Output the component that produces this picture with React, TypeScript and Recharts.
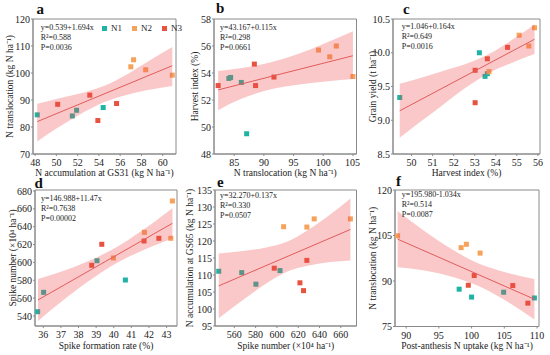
import React from "react"
import {
  ComposedChart, XAxis, YAxis, Scatter, Line, Area,
  ReferenceArea, Legend,
} from "recharts"

const groups = ["N1", "N2", "N3"]
const groupColors = ["#1fb3a5", "#f6a25b", "#e8533f"]

// points are ordered N1 x4, N2 x4, N3 x4
const aX = [48.2, 51.5, 51.9, 54.4, 57.0, 57.26, 58.4, 60.9, 50.12, 53.14, 53.9, 55.66]
const aY = [84.5, 84.1, 86.2, 87.2, 102.3, 104.9, 101.2, 99.2, 88.4, 91.8, 82.4, 88.7]
const aFitX = [48.2, 60.9]
const aFitY = [82.0, 102.7]
const aBandX = [48.2, 50, 52, 54.4, 56.5, 58.5, 60.9]
const aBandLo = [74.6, 79.4, 84.2, 89.1, 91.8, 93.6, 95.2]
const aBandHi = [88.6, 90.4, 92.2, 95.1, 99.2, 104.0, 109.6]

const bX = [84.1, 84.4, 86.2, 87.1, 99.2, 101.1, 102.2, 105.0, 82.3, 88.4, 88.6, 91.7]
const bY = [53.6, 53.67, 53.3, 49.5, 55.7, 55.2, 56.0, 53.74, 53.07, 54.66, 53.07, 53.7]
const bFitX = [82.3, 105.0]
const bFitY = [52.75, 55.28]
const bBandX = [82.3, 86, 91.2, 96, 100, 105.0]
const bBandLo = [51.25, 52.05, 52.8, 53.15, 53.35, 53.55]
const bBandHi = [54.15, 54.35, 54.8, 55.45, 56.15, 57.1]

const cX = [49.44, 53.22, 53.49, 53.6, 53.68, 55.11, 55.57, 55.84, 53.02, 53.02, 53.6, 54.56]
const cY = [9.337, 10.0, 9.65, 9.69, 9.72, 10.26, 10.1, 10.37, 9.74, 9.26, 9.91, 10.08]
const cFitX = [49.44, 55.84]
const cFitY = [9.14, 10.2]
const cBandX = [49.44, 50.5, 51.5, 52.5, 53.68, 54.8, 55.84]
const cBandLo = [8.74, 8.995, 9.23, 9.465, 9.7, 9.855, 9.98]
const cBandHi = [9.54, 9.635, 9.73, 9.825, 9.98, 10.195, 10.42]

const dX = [35.68, 36.02, 39.05, 40.66, 39.98, 41.74, 43.24, 43.33, 38.75, 39.32, 41.72, 42.56]
const dY = [544.8, 566.5, 601.9, 580.3, 605, 633.7, 627, 668.8, 596.8, 620.3, 624, 627]
const dFitX = [35.7, 43.33]
const dFitY = [558, 643.8]
const dBandX = [35.7, 37, 38.5, 40.17, 41.5, 43.33]
const dBandLo = [534.5, 555.6, 578, 599.3, 612.3, 626.8]
const dBandHi = [581.5, 589.6, 601, 617.3, 634.3, 660.8]

const eX = [545.4, 567, 580.3, 602.9, 606.3, 628.1, 635, 669, 597.5, 621.6, 625, 628.1]
const eY = [111.1, 110.7, 107.3, 111.3, 124.2, 124.1, 126.5, 126.5, 112.0, 107.7, 105.4, 114.3]
const eFitX = [545.4, 669]
const eFitY = [106.8, 123.4]
const eBandX = [545.4, 570, 590, 608.85, 630, 650, 669]
const eBandLo = [97.3, 103.1, 107.5, 110.9, 112.8, 113.8, 114.3]
const eBandHi = [116.3, 117.1, 118.1, 119.7, 123.4, 127.8, 132.5]

const fX = [98.1, 100.0, 104.9, 109.6, 88.7, 98.4, 99.2, 101.3, 100.4, 99.5, 106.3, 108.6]
const fY = [87.3, 84.7, 86.3, 84.4, 104.9, 101.0, 102.1, 99.2, 91.8, 88.6, 88.5, 82.7]
const fFitX = [88.7, 109.6]
const fFitY = [103.8, 84.0]
const fBandX = [88.7, 92, 96, 101.25, 105, 109.6]
const fBandLo = [94.5, 93.7, 92.0, 88.2, 83.8, 77.3]
const fBandHi = [113.1, 107.7, 101.8, 95.6, 93.0, 90.7]

const font = "'Liberation Serif', 'Times New Roman', serif"
const axisGrey = "#8a8a8a"

const panels = [
  {
    letter: "a", x: aX, y: aY, fitX: aFitX, fitY: aFitY, bandX: aBandX, bandLo: aBandLo, bandHi: aBandHi,
    xDomain: [47.8, 61.25], yDomain: [70, 120],
    xTicks: [48, 50, 52, 54, 56, 58, 60], yTicks: [70, 80, 90, 100, 110, 120],
    xTitle: "N accumulation at GS31 (kg N ha\u207B\u00B9)", yTitle: "N translocation (kg N ha\u207B\u00B9)",
    eq: ["y=0.539+1.694x", "R\u00B2=0.588", "P=0.0036"],
    left: 0, top: 0, width: 182, margin: { top: 19, right: 6, left: 0, bottom: 0 },
    yW: 33, xH: 26, yTitleOff: 10, xTitleOff: 4.5,
    eqPos: [40.7, 23], letterPos: [36.5, 4], legend: true,
  },
  {
    letter: "b", x: bX, y: bY, fitX: bFitX, fitY: bFitY, bandX: bBandX, bandLo: bBandLo, bandHi: bBandHi,
    xDomain: [81.6, 105.6], yDomain: [48, 58],
    xTicks: [85, 90, 95, 100, 105], yTicks: [48, 50, 52, 54, 56, 58],
    xTitle: "N translocation (kg N ha\u207B\u00B9)", yTitle: "Harvest index (%)",
    eq: ["y=43.167+0.115x", "R\u00B2=0.298", "P=0.0661"],
    left: 180, top: 0, width: 180, margin: { top: 19, right: 3.5, left: 0, bottom: 0 },
    yW: 34, xH: 26, yTitleOff: 15, xTitleOff: 4.5,
    eqPos: [40, 23], letterPos: [36, 3],
  },
  {
    letter: "c", x: cX, y: cY, fitX: cFitX, fitY: cFitY, bandX: cBandX, bandLo: cBandLo, bandHi: cBandHi,
    xDomain: [49.12, 56.1], yDomain: [8.5, 10.5],
    xTicks: [50, 51, 52, 53, 54, 55, 56], yTicks: [8.5, 9, 9.5, 10, 10.5],
    xTitle: "Harvest index (%)", yTitle: "Grain yield (t ha\u207B\u00B9)",
    eq: ["y=1.046+0.164x", "R\u00B2=0.649", "P=0.0016"],
    left: 360, top: 0, width: 190, margin: { top: 19, right: 10, left: 0, bottom: 0 },
    yW: 33, xH: 26, yTitleOff: 13, xTitleOff: 4.5,
    eqPos: [41.7, 22], letterPos: [43, 4], yFmt: (v: number) => v.toFixed(1),
  },
  {
    letter: "d", x: dX, y: dY, fitX: dFitX, fitY: dFitY, bandX: dBandX, bandLo: dBandLo, bandHi: dBandHi,
    xDomain: [35.53, 43.59], yDomain: [528.8, 681.1],
    xTicks: [36, 37, 38, 39, 40, 41, 42, 43], yTicks: [540, 560, 580, 600, 620, 640, 660, 680],
    xTitle: "Spike formation rate (%)", yTitle: "Spike number (\u00D710\u2074 ha\u207B\u00B9)",
    eq: ["y=146.988+11.47x", "R\u00B2=0.7638", "P=0.00002"],
    left: 0, top: 175, width: 182, margin: { top: 15, right: 5, left: 0, bottom: 0 },
    yW: 35, xH: 29, yTitleOff: 12.7, xTitleOff: 6,
    eqPos: [41, 18.5], letterPos: [34.5, 3],
  },
  {
    letter: "e", x: eX, y: eY, fitX: eFitX, fitY: eFitY, bandX: eBandX, bandLo: eBandLo, bandHi: eBandHi,
    xDomain: [541.9, 674.7], yDomain: [95, 135],
    xTicks: [560, 580, 600, 620, 640, 660], yTicks: [95, 100, 105, 110, 115, 120, 125, 130, 135],
    xTitle: "Spike number (\u00D710\u2074 ha\u207B\u00B9)", yTitle: "N accumulation at GS65 (kg N ha\u207B\u00B9)",
    eq: ["y=32.270+0.137x", "R\u00B2=0.330", "P=0.0507"],
    left: 180, top: 175, width: 180, margin: { top: 15, right: 3.5, left: 0, bottom: 0 },
    yW: 35, xH: 29, yTitleOff: 10, xTitleOff: 6,
    eqPos: [40, 16], letterPos: [37, 2],
  },
  {
    letter: "f", x: fX, y: fY, fitX: fFitX, fitY: fFitY, bandX: fBandX, bandLo: fBandLo, bandHi: fBandHi,
    xDomain: [88.3, 110.3], yDomain: [75, 120],
    xTicks: [90, 95, 100, 105, 110], yTicks: [75, 90, 105, 120],
    xTitle: "Post-anthesis N uptake (kg N ha\u207B\u00B9)", yTitle: "N translocation (kg N ha\u207B\u00B9)",
    eq: ["y=195.980-1.034x", "R\u00B2=0.514", "P=0.0087"],
    left: 360, top: 175, width: 190, margin: { top: 15, right: 11, left: 0, bottom: 0 },
    yW: 35, xH: 28.5, yTitleOff: 13, xTitleOff: 6,
    eqPos: [41.7, 15], letterPos: [36, 1],
  },
]

const squareShape = (color: string) => (props: any) => (
  <rect x={props.cx - 2.5} y={props.cy - 2.5} width={5} height={5} fill={color} />
)

function Panel({ p }: { p: any }) {
  const bandData = p.bandX.map((x: number, i: number) => ({ x, band: [p.bandLo[i], p.bandHi[i]] }))
  const fitData = p.fitX.map((x: number, i: number) => ({ x, y: p.fitY[i] }))
  const groupData = groups.map((_, gi) =>
    p.x.slice(gi * 4, gi * 4 + 4).map((x: number, i: number) => ({ x, y: p.y[gi * 4 + i] }))
  )
  const tick = { fontSize: 10, fill: "#222" }

  return (
    <div style={{ position: "absolute", left: p.left, top: p.top, width: p.width, height: 180 }}>
      <ComposedChart width={p.width} height={180} data={bandData} margin={p.margin}>
        <XAxis
          type="number" dataKey="x" domain={p.xDomain} ticks={p.xTicks} allowDataOverflow
          height={p.xH} tick={tick} tickSize={2} tickMargin={3}
          axisLine={{ stroke: axisGrey }} tickLine={{ stroke: axisGrey }}
          label={{ value: p.xTitle, position: "insideBottom", offset: p.xTitleOff, fontSize: 9.5, fill: "#222" }}
        />
        <YAxis
          type="number" dataKey="y" domain={p.yDomain} ticks={p.yTicks} allowDataOverflow
          width={p.yW} tick={tick} tickSize={2} tickMargin={1} tickFormatter={p.yFmt}
          axisLine={{ stroke: axisGrey }} tickLine={{ stroke: axisGrey }}
          label={{
            value: p.yTitle, angle: -90, position: "insideLeft", offset: p.yTitleOff,
            fontSize: 9.5, fill: "#222", style: { textAnchor: "middle" },
          }}
        />
        <ReferenceArea
          x1={p.xDomain[0]} x2={p.xDomain[1]} y1={p.yDomain[0]} y2={p.yDomain[1]}
          fill="none" stroke={axisGrey} strokeOpacity={1}
        />
        {groupData.map((d: any, gi: number) => (
          <Scatter
            key={groups[gi]} name={groups[gi]} data={d} dataKey="y"
            fill={groupColors[gi]} shape={squareShape(groupColors[gi])}
            legendType="square" isAnimationActive={false} zIndex={600}
          />
        ))}
        <Area
          dataKey="band" type="monotone" stroke="none" fill="#f04a4a" fillOpacity={0.3}
          isAnimationActive={false} legendType="none" zIndex={650}
        />
        <Line
          data={fitData} dataKey="y" type="linear" stroke="#e25c5c" strokeWidth={1}
          dot={false} isAnimationActive={false} legendType="none" zIndex={700}
        />
        {p.legend && (
          <Legend
            layout="horizontal" verticalAlign="middle" align="center" iconType="square" iconSize={5}
            wrapperStyle={{ left: 99, top: 23, width: 96, fontSize: 9, lineHeight: "11px", whiteSpace: "nowrap" }}
            formatter={(v: string) => <span style={{ color: "#222" }}>{v}</span>}
          />
        )}
      </ComposedChart>
      <div style={{ position: "absolute", left: p.eqPos[0], top: p.eqPos[1], fontSize: 8, lineHeight: "10px", color: "#222" }}>
        {p.eq.map((s: string) => <div key={s}>{s}</div>)}
      </div>
      <div style={{ position: "absolute", left: p.letterPos[0], top: p.letterPos[1], fontSize: 15, lineHeight: "11px", fontWeight: "bold", color: "#111" }}>
        {p.letter}
      </div>
    </div>
  )
}

export default function App() {
  return (
    <div style={{ position: "absolute", left: 0, top: 0, width: 550, height: 355, background: "#fff", fontFamily: font }}>
      {panels.map(p => <Panel key={p.letter} p={p} />)}
    </div>
  )
}
